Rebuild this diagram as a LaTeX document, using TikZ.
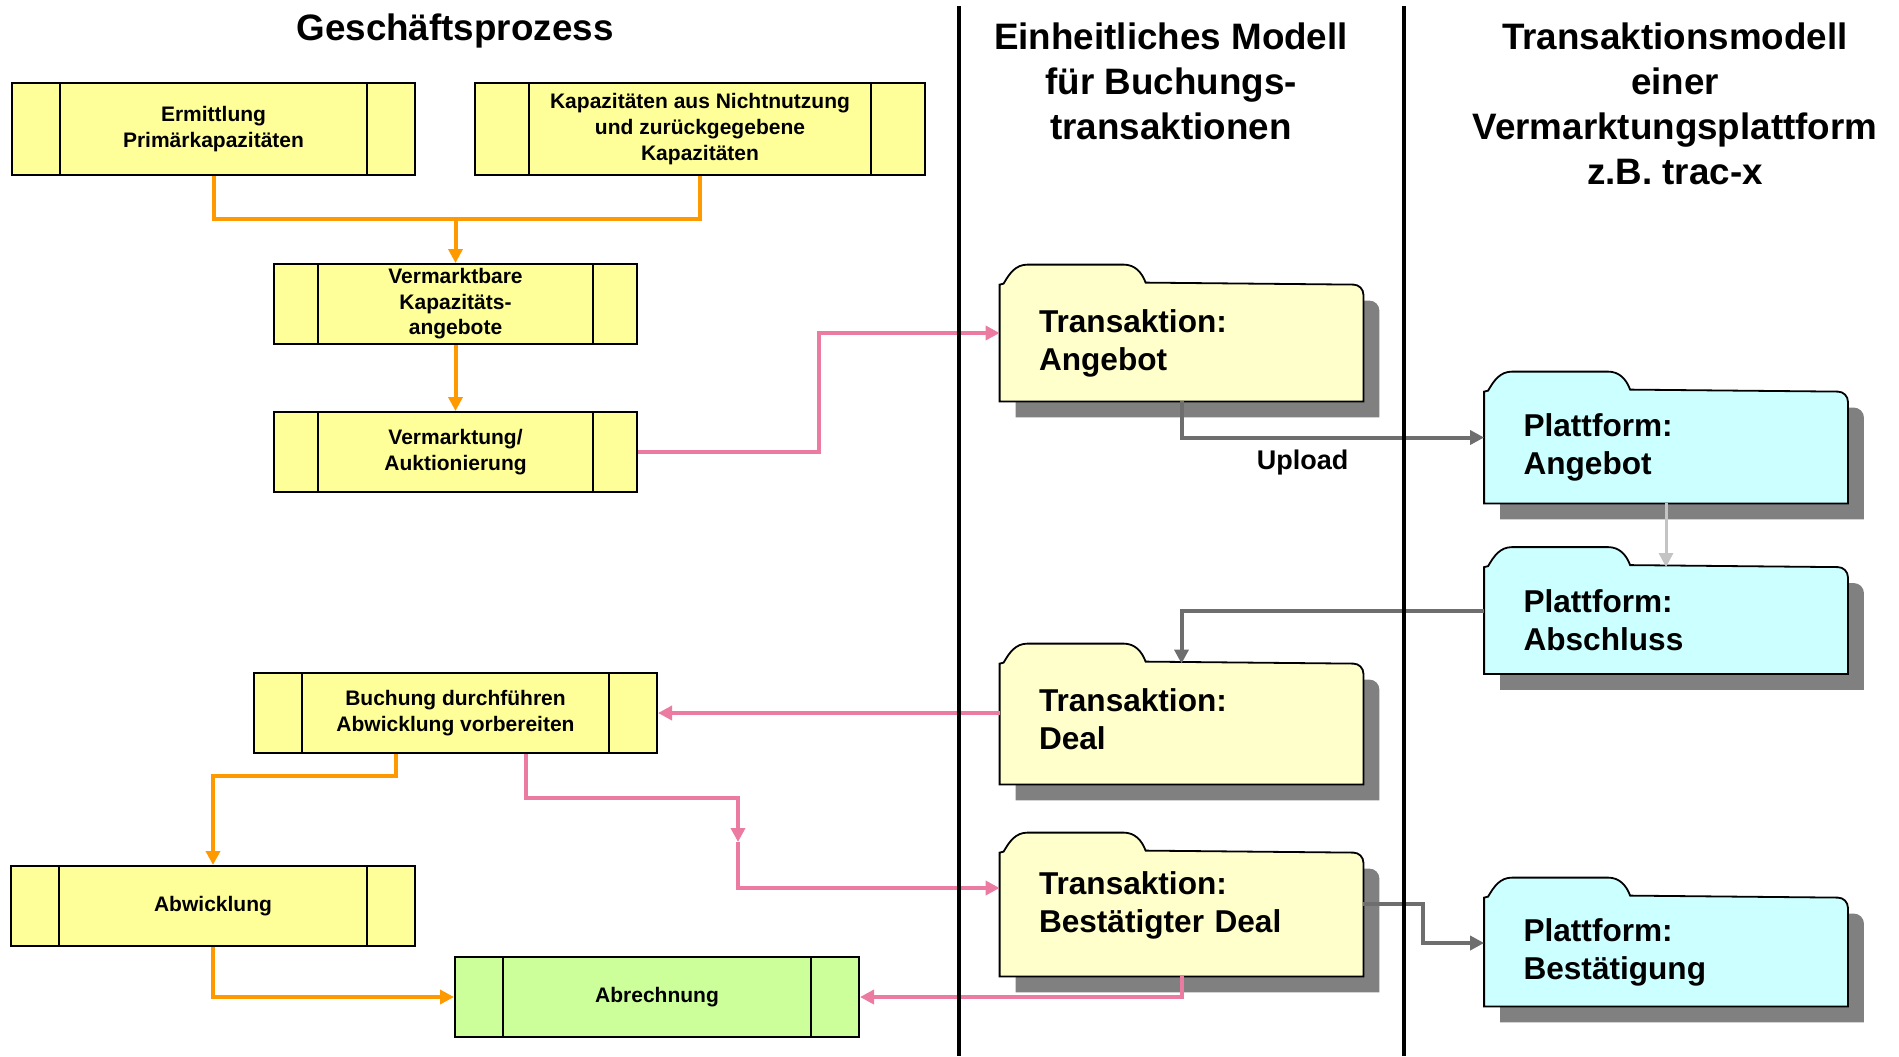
\documentclass[tikz,border=0pt]{standalone}
\usepackage{fontspec}
\setmainfont{Liberation Sans}
\usetikzlibrary{arrows.meta,backgrounds}

\definecolor{procyellow}{HTML}{FFFF99}
\definecolor{foldyellow}{HTML}{FFFFCC}
\definecolor{foldcyan}{HTML}{CCFFFF}
\definecolor{procgreen}{HTML}{CCFF99}
\definecolor{flowline}{HTML}{FF9900}
\definecolor{dataline}{HTML}{EC7BA2}
\definecolor{platline}{HTML}{6E6E6E}
\definecolor{softline}{HTML}{C4C4C4}
\definecolor{shadowgray}{HTML}{808080}

\begin{document}
\begin{tikzpicture}[x=0.5pt, y=-0.5pt,
    stripwidth/.store in=\stripw, stripwidth=24pt,
    procbox/.style = {draw, line width=1pt, fill=procyellow, align=center,
      minimum height=40pt, inner ysep=1pt, font=\bfseries\fontsize{10.5}{12.8}\selectfont,
      path picture={
        \draw[line width=0.6pt] ([xshift=\stripw]path picture bounding box.north west)
          -- ([xshift=\stripw]path picture bounding box.south west);
        \draw[line width=0.6pt] ([xshift=-\stripw]path picture bounding box.north east)
          -- ([xshift=-\stripw]path picture bounding box.south east);}},
    folder/.style = {align=left, text width=142.5pt, inner xsep=19.5pt,
      font=\bfseries\fontsize{15.8}{19}\selectfont},
    title/.style = {align=center, font=\bfseries\fontsize{18.4}{22.5}\selectfont},
    tip/.style = {-{Triangle[length=7pt,width=7pt]}},
    flow/.style = {draw=flowline, line width=2pt, tip},
    data/.style = {draw=dataline, line width=2pt, tip},
    plat/.style = {draw=platline, line width=2pt, tip},
    soft/.style = {draw=softline, line width=1.5pt, tip}]

  \useasboundingbox (0,0) rectangle (1899,1056);

  \node[title] (gp) at (455,31) {Geschäftsprozess};
  \node[title] (em) at (1171,81) {Einheitliches Modell\\für Buchungs-\\transaktionen};
  \node[title] (tm) at (1675,103.5) {Transaktionsmodell\\einer\\Vermarktungsplattform\\z.B. trac-x};

  \node[procbox, minimum width=201.5pt, minimum height=46pt] (ermittlung) at (213.5,129)
    {Ermittlung\\Primärkapazitäten};
  \node[procbox, stripwidth=27pt, minimum width=225pt, minimum height=46pt] (kapaz) at (700,129)
    {Kapazitäten aus Nichtnutzung\\und zurückgegebene\\Kapazitäten};
  \node[procbox, stripwidth=22pt, minimum width=181.5pt] (vbare) at (455.5,304)
    {Vermarktbare\\Kapazitäts-\\angebote};
  \node[procbox, stripwidth=22pt, minimum width=181.5pt] (vmarkt) at (455.5,452)
    {Vermarktung/\\Auktionierung};
  \node[procbox, minimum width=201.5pt] (buchung) at (455.5,713)
    {Buchung durchführen\\Abwicklung vorbereiten};
  \node[procbox, minimum width=202pt] (abwickl) at (213,906) {Abwicklung};
  \node[procbox, fill=procgreen, minimum width=202pt] (abrech) at (657,997) {Abrechnung};

  \node[folder, minimum height=58pt] (tAngebot) at (1181.5,343) {Transaktion:\\Angebot};
  \node[folder, minimum height=55pt] (tDeal) at (1181.5,719) {Transaktion:\\Deal};
  \node[folder, minimum height=52pt] (tBest) at (1181.5,905) {Transaktion:\\Bestätigter Deal};
  \node[folder, minimum height=55.5pt] (pAngebot) at (1666,447.5) {Plattform:\\Angebot};
  \node[folder, minimum height=53pt] (pAbschluss) at (1666,620.5) {Plattform:\\Abschluss};
  \node[folder, minimum height=54pt] (pBest) at (1666,952) {Plattform:\\Bestätigung};

  \begin{scope}[on background layer]
    \foreach \n/\c/\d in {tAngebot/foldyellow/0pt, tDeal/foldyellow/5pt, tBest/foldyellow/9.5pt,
                          pAngebot/foldcyan/0pt, pAbschluss/foldcyan/0pt, pBest/foldcyan/0pt}{
      \fill[shadowgray] ([shift={(8pt,-8pt-\d)}]\n.south west) -- ([shift={(8pt,-8pt)}]\n.north west)
        -- ([shift={(3pt,-8pt)}]\n.north east) to[out=0,in=90] ([shift={(8pt,-13pt)}]\n.north east)
        -- ([shift={(8pt,-8pt-\d)}]\n.south east) -- cycle;
      \draw[line width=0.9pt, fill=\c] ([yshift=-\d]\n.south west) -- (\n.north west) -- ++(2pt,0.5pt)
        to[out=60,in=180] ++(12pt,9.5pt) -- ++(48pt,0) to[out=0,in=110] ++(11pt,-9pt)
        -- ([xshift=-5pt]\n.north east) to[out=0,in=90] ([yshift=-5pt]\n.north east)
        -- ([yshift=-\d]\n.south east) -- cycle;
    }
  \end{scope}

  \coordinate (merge) at (455.5,219);
  \coordinate (bend) at (738,842);

  \draw[flow,-] (ermittlung.south) |- (merge) -| (kapaz.south);
  \draw[flow] (merge) -- (vbare.north);
  \draw[flow] (vbare.south) -- (vmarkt.north);
  \draw[flow] ([xshift=-30pt]buchung.south) -- ++(0,-11pt) -| (abwickl.north);
  \draw[flow] (abwickl.south) |- (abrech.west);

  \draw[data] (vmarkt.east) -- ++(90.5pt,0) |- ([yshift=5pt]tAngebot.west);
  \draw[data] (tDeal.west |- buchung.east) -- (buchung.east);
  \draw[data] ([xshift=35pt]buchung.south) -- ++(0,-22pt) -| (bend);
  \draw[data] (bend) |- ([yshift=8.5pt]tBest.west);
  \draw[data] ([yshift=-9.5pt]tBest.south) |- (abrech.east);

  \draw[plat] (tAngebot.south) |- ([yshift=5pt]pAngebot.west)
    node[pos=0.7, below=2pt, text=black, font=\bfseries\fontsize{13.5}{15}\selectfont] {Upload};
  \draw[soft] (pAngebot.south) -- (pAbschluss.north);
  \draw[plat] ([yshift=5pt]pAbschluss.west) -| (tDeal.north);
  \draw[plat] ([yshift=0.5pt]tBest.east) -- ++(30pt,0) |- ([yshift=4.5pt]pBest.west);

  \draw[line width=2pt] (959,6) -- (959,1056);
  \draw[line width=2pt] (1404,6) -- (1404,1056);
\end{tikzpicture}
\end{document}
